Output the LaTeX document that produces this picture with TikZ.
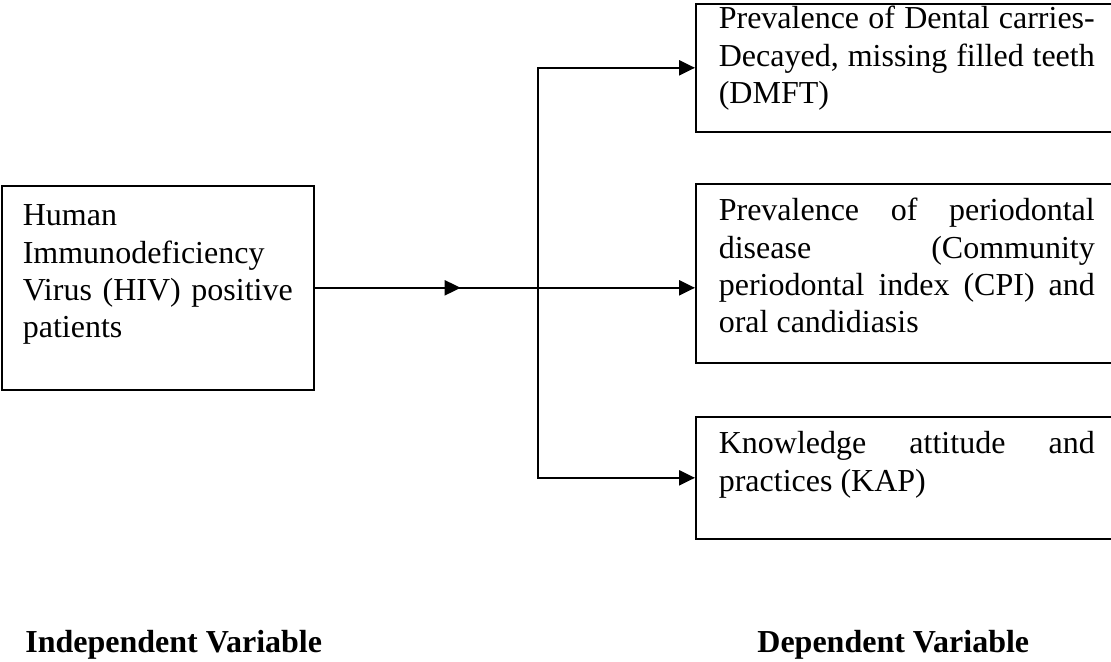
\documentclass[tikz,border=0pt]{standalone}
\usepackage{fontspec}
\setmainfont{Liberation Serif}
\usetikzlibrary{calc,positioning,arrows.meta,decorations.markings}
\hyphenpenalty=10000
\hbadness=10000
\tikzset{
>={Triangle[length=8pt,width=7.5pt]},
  varbox/.style={
    rectangle,
    draw=black, line width=0.8pt,
    inner xsep=10.5pt,
    inner ysep=0pt,
    align=justify,
    font=\fontsize{16}{18.6}\selectfont,
    anchor=north west},
  depbox/.style={
    varbox,
    inner xsep=11.5pt,
    text width=188pt},
  line/.style={draw, line width=1.1pt},
  midarrow/.style={
    postaction={decorate},
    decoration={markings, mark=at position #1 with {\arrow{>}}}},
  caption/.style={
    font=\fontsize{16}{18.6}\selectfont\bfseries,
    anchor=base west, inner sep=0pt},
}

\begin{document}
\begin{tikzpicture}
    \useasboundingbox (0,0) rectangle (555.5pt,-330.5pt);

    \node [varbox, text width=135pt, text height=20pt, text depth=82pt] (hiv) at (0.5pt,-92.5pt)
        {Human Immunodeficiency Virus (HIV) positive patients};
    \node [depbox, text height=12.5pt, text depth=51.5pt] (dmft) at (347.5pt,-1.5pt)
        {Prevalence of Dental carries-\linebreak Decayed, missing filled teeth (DMFT)};
    \node [depbox, text height=18.5pt, text depth=71pt] (perio) at (347.5pt,-91.5pt)
        {Prevalence of periodontal\linebreak disease (Community\linebreak periodontal index (CPI) and oral candidiasis};
    \node [depbox, text height=18.5pt, text depth=42.5pt] (kap) at (347.5pt,-208pt)
        {Knowledge attitude and practices (KAP)};

    \coordinate [right=111.5pt of hiv.east] (split);
    \draw [line, midarrow=0.655] (hiv.east) -- (split);
    \draw [line, ->] (split) |- (dmft.west);
    \draw [line, ->] (split) -- (split -| perio.west);
    \draw [line, ->] (split) |- (kap.west);

    \node [caption] (indep) at (12.5pt,-326pt) {Independent Variable};
    \node [caption] (dep) at (378.5pt,-326pt) {Dependent Variable};

\end{tikzpicture}
\end{document}
